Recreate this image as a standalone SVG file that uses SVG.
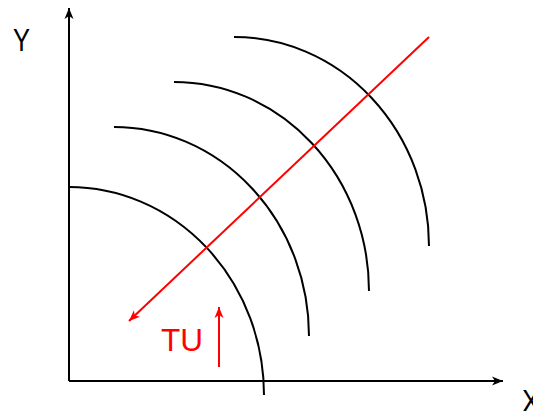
<svg xmlns="http://www.w3.org/2000/svg" width="533" height="411" viewBox="0 0 533 411">
<style>
.ax{stroke:#000;stroke-width:2;fill:none}
.arc{stroke:#000;stroke-width:2;fill:none}
.red{stroke:#f00;stroke-width:2;fill:none}
.lbl{font-family:"Liberation Sans",Arial,sans-serif;font-size:32px}
</style>
<defs>
<marker id="ab" viewBox="-12 -6 14 12" refX="0" refY="0" markerWidth="14" markerHeight="12" markerUnits="userSpaceOnUse" orient="auto">
<path d="M0,0 L-11,-4.5 L-8,0 L-11,4.5 Z" fill="#000"/>
</marker>
<marker id="ar" viewBox="-12 -6 14 12" refX="0" refY="0" markerWidth="14" markerHeight="12" markerUnits="userSpaceOnUse" orient="auto">
<path d="M0,0 L-11,-4.5 L-8,0 L-11,4.5 Z" fill="#f00"/>
</marker>
</defs>
<g id="axes">
<line class="ax" x1="69" y1="381" x2="69" y2="8" marker-end="url(#ab)"/>
<line class="ax" x1="69" y1="381" x2="503" y2="381" marker-end="url(#ab)"/>
</g>
<g id="curves">
<path class="arc" d="M69,187 A195,208 0 0 1 264,395"/>
<path class="arc" d="M114,127 A195,209 0 0 1 309,336"/>
<path class="arc" d="M174,82 A195,209 0 0 1 369,291"/>
<path class="arc" d="M234,37 A195,209 0 0 1 429,246"/>
</g>
<g id="connectors">
<line class="red" x1="429" y1="37" x2="129" y2="321" marker-end="url(#ar)"/>
<line class="red" x1="219" y1="367" x2="219" y2="307" marker-end="url(#ar)"/>
</g>
<g id="labels">
<text class="lbl" x="13" y="51" textLength="17" lengthAdjust="spacingAndGlyphs">Y</text>
<text class="lbl" x="522" y="412" textLength="18" lengthAdjust="spacingAndGlyphs">X</text>
<text class="lbl" x="161" y="351" fill="#f00" textLength="42" lengthAdjust="spacingAndGlyphs">TU</text>
</g>
</svg>
